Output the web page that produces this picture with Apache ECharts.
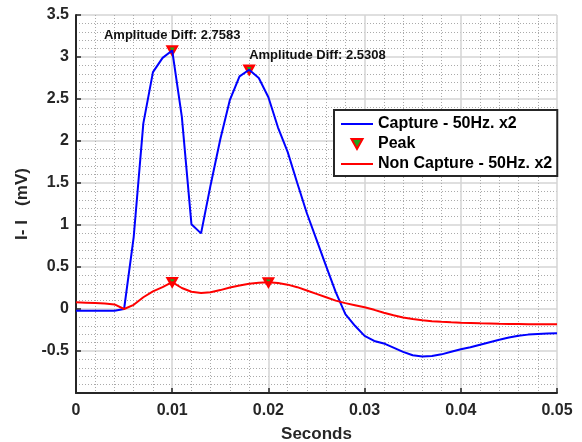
<!DOCTYPE html>
<html>
<head>
<meta charset="utf-8">
<script src="https://cdn.jsdelivr.net/npm/echarts@6/dist/echarts.min.js"></script>
<style>
html,body{margin:0;padding:0;background:#fff;}
#main{width:582px;height:442px;}
</style>
</head>
<body>
<div id="main"></div>
<script>
// sample step (s)
var dt = 0.001;
// Capture - 50Hz. x2 (mV), one value per sample
var capture = [-0.02, -0.02, -0.02, -0.02, -0.02, 0.00, 0.86, 2.21, 2.82, 2.99,
	3.0783, 2.29, 1.01, 0.90, 1.48, 2.02, 2.49, 2.77, 2.8483, 2.75,
	2.52, 2.16, 1.87, 1.50, 1.14, 0.825, 0.51, 0.20, -0.06, -0.20,
	-0.32, -0.38, -0.41, -0.46, -0.51, -0.55, -0.565, -0.56, -0.54, -0.51,
	-0.48, -0.455, -0.425, -0.395, -0.365, -0.34, -0.318, -0.305, -0.298, -0.292,
	-0.288];
// Non Capture - 50Hz. x2 (mV)
var nonCapture = [0.08, 0.075, 0.07, 0.065, 0.055, 0.00, 0.05, 0.14, 0.21, 0.26,
	0.32, 0.25, 0.205, 0.19, 0.20, 0.225, 0.255, 0.28, 0.30, 0.312,
	0.3175, 0.31, 0.29, 0.26, 0.22, 0.18, 0.14, 0.10, 0.07, 0.045,
	0.02, -0.01, -0.045, -0.075, -0.10, -0.12, -0.135, -0.145, -0.152, -0.158,
	-0.163, -0.167, -0.171, -0.174, -0.177, -0.179, -0.18, -0.181, -0.181, -0.182,
	-0.182];
// sample index of each peak
var capturePeakIdx = [10, 18];
var nonCapturePeakIdx = [10, 20];

function toXY(arr){
	var out = [];
	for(var i = 0; i < arr.length; i++){
		out.push([+(i * dt).toFixed(3), arr[i]]);
	}
	return out;
}

var captureData = toXY(capture);
var nonCaptureData = toXY(nonCapture);

// peaks, with amplitude diff shown above the capture ones
var peakData = [];
for(var k = 0; k < capturePeakIdx.length; k++){
	var ci = capturePeakIdx[k], ni = nonCapturePeakIdx[k];
	var diff = (capture[ci] - nonCapture[ni]).toFixed(4);
	peakData.push({
		value: captureData[ci],
		label: {
			show: true,
			position: 'top',
			distance: 3,
			align: k == 0 ? 'center' : 'left',
			formatter: 'Amplitude Diff: ' + diff
		}
	});
}
for(var k = 0; k < nonCapturePeakIdx.length; k++){
	peakData.push({value: nonCaptureData[nonCapturePeakIdx[k]]});
}

var font = "'Liberation Sans', Arial, Helvetica, sans-serif";
var dark = '#262626';
var triIcon = 'path://M0,0 L10,0 L5,9 Z';

var myChart = echarts.init(document.getElementById('main'));
var option = {
	backgroundColor: '#fff',
	animation: false,
	textStyle: {fontFamily: font},
	grid: {left: 76, right: 25, top: 15, bottom: 49, containLabel: false, outerBoundsMode: 'none'},
	legend: {
		orient: 'vertical',
		left: 334,
		top: 110,
		padding: [6, 5, 4, 6],
		itemWidth: 32,
		itemHeight: 10,
		itemGap: 4,
		symbolKeepAspect: true,
		backgroundColor: '#fff',
		borderColor: dark,
		borderWidth: 2,
		borderRadius: 0,
		textStyle: {fontSize: 16, fontWeight: 'bold', color: '#000', fontFamily: font},
		data: [
			{name: 'Capture - 50Hz. x2', itemStyle: {opacity: 0}},
			{name: 'Peak', icon: triIcon},
			{name: 'Non Capture - 50Hz. x2', itemStyle: {opacity: 0}}
		]
	},
	xAxis: {
		type: 'value',
		min: 0,
		max: 0.05,
		interval: 0.01,
		name: 'Seconds',
		nameLocation: 'middle',
		nameGap: 33,
		nameTextStyle: {fontSize: 17, fontWeight: 'bold', color: dark},
		axisLine: {onZero: false, lineStyle: {color: dark, width: 2}},
		axisTick: {inside: true, length: 5, lineStyle: {color: dark, width: 1.5}},
		axisLabel: {
			fontSize: 16, fontWeight: 'bold', color: dark, margin: 10,
			formatter: function(v){ return v == 0 ? '0' : v.toFixed(2); }
		},
		splitLine: {show: true, lineStyle: {color: '#d4d4d4', width: 1.5}},
		minorTick: {show: false, splitNumber: 5},
		minorSplitLine: {show: true, lineStyle: {color: '#aaaaaa', width: 1, type: [1, 2]}}
	},
	yAxis: {
		type: 'value',
		min: -1,
		max: 3.5,
		interval: 0.5,
		name: 'I- I   (mV)',
		nameLocation: 'middle',
		nameGap: 41,
		nameTextStyle: {fontSize: 17, fontWeight: 'bold', color: dark},
		axisLine: {show: true, onZero: false, lineStyle: {color: dark, width: 2}},
		axisTick: {show: true, inside: true, length: 5, lineStyle: {color: dark, width: 1.5}},
		axisLabel: {
			fontSize: 16, fontWeight: 'bold', color: dark, margin: 7,
			formatter: function(v){ return v == -1 ? '' : String(v); }
		},
		splitLine: {show: true, lineStyle: {color: '#d4d4d4', width: 1.5}},
		minorTick: {show: false, splitNumber: 5},
		minorSplitLine: {show: true, lineStyle: {color: '#aaaaaa', width: 1, type: [1, 2]}}
	},
	series: [
		{
			name: 'Capture - 50Hz. x2',
			type: 'line',
			z: 3,
			symbol: 'none',
			smooth: false,
			lineStyle: {color: '#0000ff', width: 2},
			itemStyle: {color: '#0000ff'},
			data: captureData
		},
		{
			name: 'Peak',
			type: 'scatter',
			z: 2,
			symbol: 'triangle',
			symbolRotate: 180,
			symbolSize: [9, 8],
			itemStyle: {color: '#1fa51f', borderColor: '#ff0000', borderWidth: 2.5, opacity: 1},
			label: {fontSize: 13, fontWeight: 'bold', color: '#111', fontFamily: font},
			data: peakData
		},
		{
			name: 'Non Capture - 50Hz. x2',
			type: 'line',
			z: 3,
			symbol: 'none',
			smooth: false,
			lineStyle: {color: '#ff0000', width: 2},
			itemStyle: {color: '#ff0000'},
			data: nonCaptureData
		}
	]
};
myChart.setOption(option);
</script>
</body>
</html>
